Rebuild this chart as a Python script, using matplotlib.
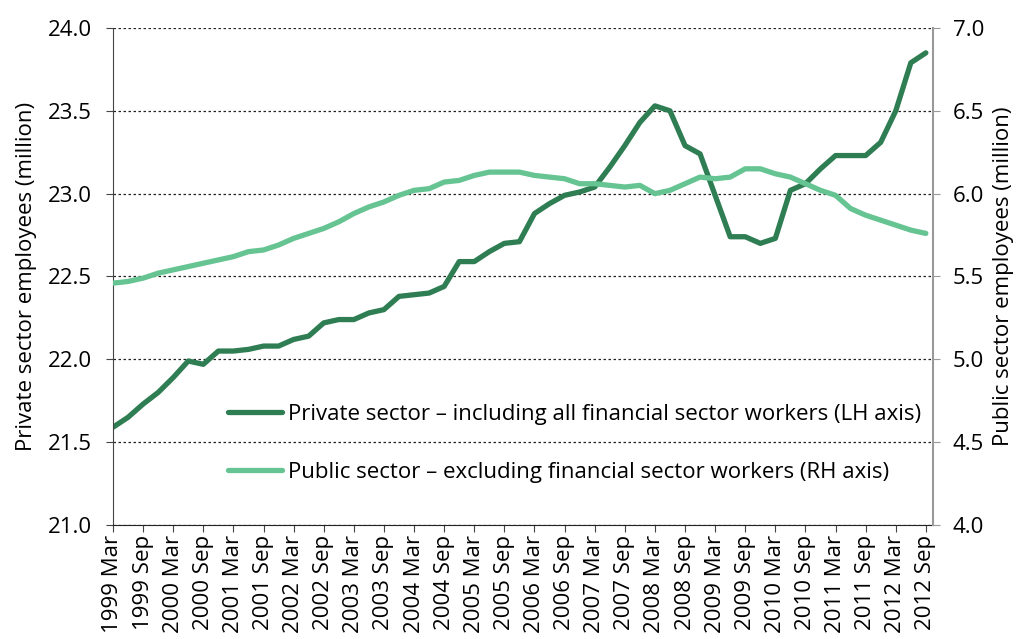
import matplotlib.pyplot as plt

plt.rcParams['font.family'] = ['Open Sans', 'DejaVu Sans']

# Quarterly labels, 1999 Mar .. 2012 Sep
years = list(range(1999, 2013))
months = ['Mar', 'Jun', 'Sep', 'Dec']
quarters = [f'{y} {m}' for y in years for m in months][:55]

# Private sector employees incl. financial sector (million, LH axis)
private = [21.59, 21.65, 21.73, 21.80, 21.89, 21.99, 21.97, 22.05, 22.05, 22.06,
           22.08, 22.08, 22.12, 22.14, 22.22, 22.24, 22.24, 22.28, 22.30, 22.38,
           22.39, 22.40, 22.44, 22.59, 22.59, 22.65, 22.70, 22.71, 22.88, 22.94,
           22.99, 23.01, 23.04, 23.16, 23.29, 23.43, 23.53, 23.50, 23.29, 23.24,
           22.99, 22.74, 22.74, 22.70, 22.73, 23.02, 23.06, 23.15, 23.23, 23.23,
           23.23, 23.31, 23.50, 23.79, 23.85]

# Public sector employees excl. financial sector (million, RH axis)
public = [5.46, 5.47, 5.49, 5.52, 5.54, 5.56, 5.58, 5.60, 5.62, 5.65,
          5.66, 5.69, 5.73, 5.76, 5.79, 5.83, 5.88, 5.92, 5.95, 5.99,
          6.02, 6.03, 6.07, 6.08, 6.11, 6.13, 6.13, 6.13, 6.11, 6.10,
          6.09, 6.06, 6.06, 6.05, 6.04, 6.05, 6.00, 6.02, 6.06, 6.10,
          6.09, 6.10, 6.15, 6.15, 6.12, 6.10, 6.06, 6.02, 5.99, 5.91,
          5.87, 5.84, 5.81, 5.78, 5.76]

dark = '#2f7d52'
light = '#66c492'
fs = 16

fig = plt.figure(figsize=(10.16, 6.39), dpi=100)
ax = fig.add_axes([0.1112, 0.1784, 0.8075, 0.7778])
ax2 = ax.twinx()

x = list(range(len(quarters)))
l1, = ax.plot(x, private, color=dark, lw=3.8, solid_capstyle='round',
              label='Private sector \u2013 including all financial sector workers (LH axis)')
l2, = ax2.plot(x, public, color=light, lw=3.8, solid_capstyle='round',
               label='Public sector \u2013 excluding financial sector workers (RH axis)')

ax.set_xlim(0, 54.5)
ax.set_ylim(21.0, 24.0)
ax2.set_ylim(4.0, 7.0)
ax.set_yticks([21.0 + 0.5 * k for k in range(7)])
ax2.set_yticks([4.0 + 0.5 * k for k in range(7)])
ax.yaxis.set_major_formatter(plt.FormatStrFormatter('%.1f'))
ax2.yaxis.set_major_formatter(plt.FormatStrFormatter('%.1f'))

ax.set_xticks(x[::2])
ax.set_xticklabels(quarters[::2], rotation=90, fontsize=fs)
ax.tick_params(axis='y', labelsize=fs, length=5, color='#444444', pad=10)
ax.tick_params(axis='x', length=5, color='#444444', pad=2)
ax2.tick_params(axis='y', labelsize=fs, length=5, color='#999999', pad=9)

ax.grid(axis='y', linestyle=(0, (2, 2)), color='#222222', lw=0.9)
ax.set_axisbelow(True)

for a in (ax, ax2):
    a.spines['top'].set_visible(False)
ax.spines['right'].set_visible(False)
ax2.spines['left'].set_visible(False)
ax2.spines['bottom'].set_visible(False)
ax.spines['left'].set_color('#444444')
ax.spines['bottom'].set_color('#222222')
ax2.spines['right'].set_color('#999999')
ax2.spines['right'].set_linewidth(1.5)

ax.set_ylabel('Private sector employees (million)', fontsize=fs, labelpad=8)
ax2.set_ylabel('Public sector employees (million)', fontsize=fs, rotation=90, labelpad=6)

leg = ax2.legend(handles=[l1, l2], loc='upper left', bbox_to_anchor=(0.14, 0.243),
                 frameon=False, fontsize=fs, handlelength=2.45, handletextpad=0.25,
                 labelspacing=1.66, borderpad=0, borderaxespad=0)

fig.savefig('out.png', dpi=100)
